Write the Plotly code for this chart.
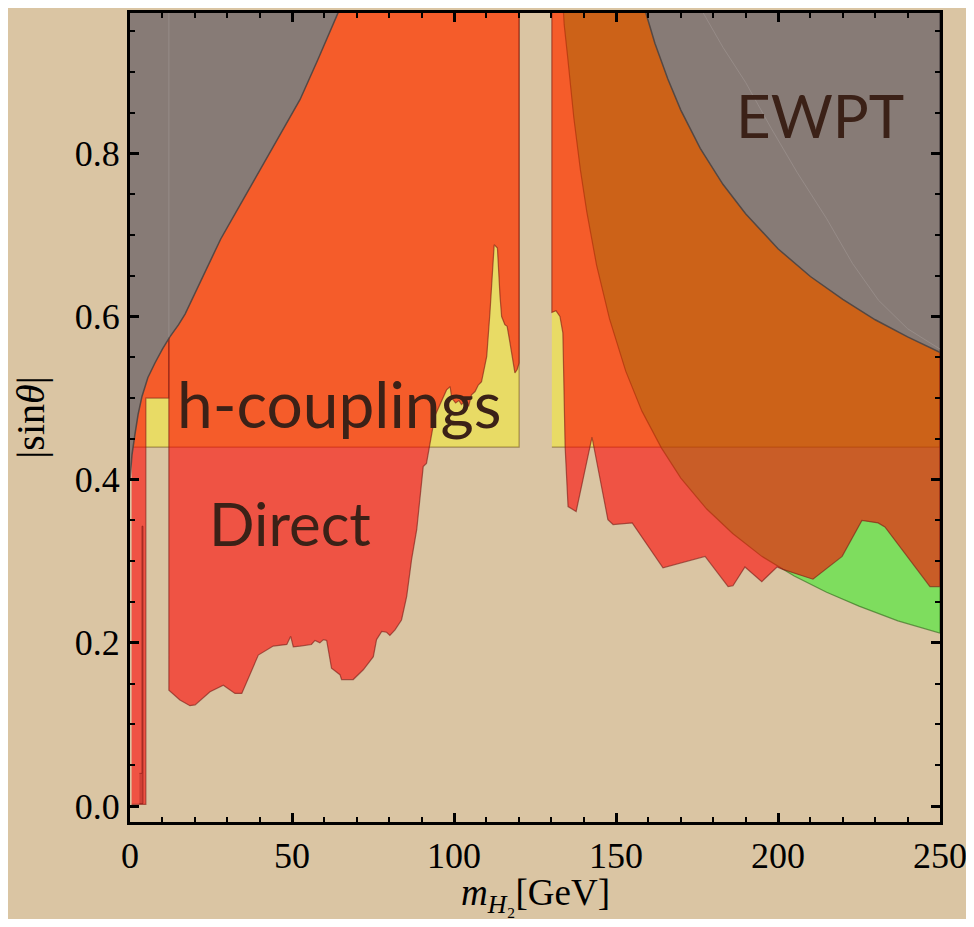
import plotly.graph_objects as go

# ---------------- data ----------------
# h-couplings exclusion band (|sin theta| > 0.44)
hcoup_left_x = [0.0, 120.1, 120.1, 0.0]
hcoup_left_y = [0.44, 0.44, 1.0, 1.0]
hcoup_right_x = [130.2, 250.0, 250.0, 130.2]
hcoup_right_y = [0.44, 0.44, 1.0, 1.0]

# W-mass (green) region: smooth lower boundary, open to the top
wmass_x = [133.4, 134.0, 135.0, 137.0, 139.0, 141.0, 144.0, 148.0, 153.0, 158.0,
           164.0, 170.0, 178.0, 186.0, 195.0, 205.0, 215.0, 225.0, 237.0, 250.0,
           250.0]
wmass_y = [1.0, 0.958, 0.921, 0.843, 0.780, 0.728, 0.663, 0.597, 0.533, 0.484,
           0.439, 0.402, 0.364, 0.334, 0.306, 0.282, 0.262, 0.245, 0.227, 0.212,
           1.0]

# Direct searches (red)
direct_left_x = [12.0, 12.0, 15.4, 18.5, 20.1, 24.7, 28.8, 32.4, 34.5, 39.6, 44.2,
                 48.4, 49.6, 50.4, 52.5, 56.0, 57.1, 58.6, 59.7, 60.7, 62.2, 64.8,
                 65.3, 68.9, 72.0, 75.1, 76.1, 77.7, 79.2, 80.2, 81.8, 83.8, 85.4,
                 86.9, 88.5, 90.5, 91.5, 92.6, 94.1, 97.7, 98.8, 99.3, 100.5, 101.5,
                 102.3, 103.5, 104.5, 105.4, 106.5, 107.5, 108.5, 110.1, 111.1, 112.4,
                 113.4, 114.2, 114.7, 115.7, 116.4, 117.1, 118.8, 119.5, 120.1, 120.1]
direct_left_y = [1.0, 0.142, 0.130, 0.123, 0.124, 0.140, 0.148, 0.138, 0.138, 0.185,
                 0.196, 0.198, 0.208, 0.195, 0.196, 0.198, 0.203, 0.200, 0.204, 0.203,
                 0.169, 0.161, 0.155, 0.155, 0.167, 0.183, 0.204, 0.214, 0.213, 0.209,
                 0.216, 0.228, 0.257, 0.302, 0.339, 0.416, 0.420, 0.445, 0.478, 0.510,
                 0.514, 0.500, 0.494, 0.497, 0.492, 0.497, 0.490, 0.504, 0.508, 0.516,
                 0.520, 0.551, 0.605, 0.688, 0.684, 0.625, 0.600, 0.590, 0.588, 0.572,
                 0.531, 0.535, 0.543, 1.0]
direct_strip_x = [0.5, 4.9, 4.9, 12.0, 12.0, 0.5]
direct_strip_y = [0.002, 0.002, 0.5, 0.5, 1.0, 1.0]
direct_thin_x = [2.9, 4.0, 4.0, 3.7, 3.7, 2.9]
direct_thin_y = [0.003, 0.003, 0.343, 0.343, 0.04, 0.04]
direct_right_x = [130.2, 130.2, 131.5, 132.7, 133.6, 134.3, 135.2, 137.7, 142.6, 147.5,
                  149.1, 155.0, 164.5, 169.8, 177.5, 184.6, 186.1, 189.8, 195.0, 199.7,
                  201.5, 210.8, 219.8, 225.9, 230.9, 233.0, 246.9, 250.0, 250.0]
direct_right_y = [1.0, 0.605, 0.607, 0.600, 0.580, 0.440, 0.367, 0.361, 0.452, 0.351,
                  0.345, 0.347, 0.292, 0.298, 0.306, 0.269, 0.270, 0.293, 0.275, 0.293,
                  0.290, 0.278, 0.306, 0.350, 0.347, 0.342, 0.269, 0.269, 1.0]

# EWPT (grey)
ewpt_left_x = [0.0, 0.6, 1.5, 2.5, 3.7, 5.5, 7.7, 10.0, 12.3, 15.0, 17.0, 19.0, 22.0,
               28.0, 35.0, 43.0, 52.5, 58.0, 64.3, 64.8, 0.0]
ewpt_left_y = [0.40, 0.43, 0.455, 0.48, 0.502, 0.525, 0.543, 0.560, 0.575, 0.590, 0.603,
               0.620, 0.645, 0.695, 0.744, 0.800, 0.866, 0.915, 0.973, 1.0, 1.0]
ewpt_right_x = [157.3, 159.0, 162.0, 166.0, 170.0, 176.0, 183.0, 190.0, 200.0, 210.0,
                220.0, 230.0, 240.0, 250.0, 250.0]
ewpt_right_y = [1.0, 0.975, 0.935, 0.891, 0.853, 0.806, 0.762, 0.726, 0.683, 0.649,
                0.621, 0.596, 0.575, 0.556, 1.0]
# faint seams visible inside the grey area
seam1_x = [12.0, 12.0]
seam1_y = [0.575, 1.0]
seam2_x = [176.5, 183.0, 190.0, 198.0, 206.0, 215.0, 223.0, 231.0, 240.0, 250.0]
seam2_y = [0.975, 0.930, 0.887, 0.830, 0.776, 0.720, 0.665, 0.620, 0.585, 0.560]

labels = ["EWPT", "h-couplings", "Direct"]
label_x = [213.0, 64.5, 49.5]
label_y = [0.847, 0.493, 0.347]
label_size = [60, 64, 60]

x_title = "<i>m</i><sub><i>H</i>₂</sub>[GeV]"
y_title = "|sin<i>θ</i>|"
x_ticks = [0, 50, 100, 150, 200, 250]
y_ticks = [0.0, 0.2, 0.4, 0.6, 0.8]

# ---------------- figure ----------------
BG = "#dac5a3"
fig = go.Figure()


def poly(xs, ys, fill, line, width=1.2):
    fig.add_trace(go.Scatter(x=xs, y=ys, mode="lines", fill="toself",
                             fillcolor=fill, line=dict(color=line, width=width),
                             hoverinfo="skip", showlegend=False))


YEL = "rgba(255,255,0,0.38)"
GRN = "rgba(0,255,0,0.42)"
RED = "rgba(255,0,0,0.58)"
GRAY = "#877b76"

poly(hcoup_left_x, hcoup_left_y, YEL, "rgba(110,80,20,0.55)")
poly(hcoup_right_x, hcoup_right_y, YEL, "rgba(110,80,20,0.55)")
poly(wmass_x, wmass_y, GRN, "rgba(40,100,20,0.6)")
poly(direct_strip_x, direct_strip_y, RED, "rgba(120,25,20,0.55)")
poly(direct_left_x, direct_left_y, RED, "rgba(120,25,20,0.6)")
poly(direct_right_x, direct_right_y, RED, "rgba(120,25,20,0.6)")
poly(direct_thin_x, direct_thin_y, "rgba(150,30,30,0.35)", "rgba(130,25,20,0.6)", 1.0)
poly(ewpt_left_x, ewpt_left_y, GRAY, "rgba(75,68,66,0.9)", 1.5)
poly(ewpt_right_x, ewpt_right_y, GRAY, "rgba(75,68,66,0.9)", 1.5)

for sx, sy in [(seam1_x, seam1_y), (seam2_x, seam2_y)]:
    fig.add_trace(go.Scatter(x=sx, y=sy, mode="lines",
                             line=dict(color="rgba(160,150,146,0.6)", width=1.0),
                             hoverinfo="skip", showlegend=False))

for t, lx, ly, s in zip(labels, label_x, label_y, label_size):
    fig.add_annotation(x=lx, y=ly, text=t, showarrow=False, xanchor="center",
                       yanchor="middle",
                       font=dict(family="Lato", size=s, color="#3b2117"))

# x-axis title placed as a paper annotation so it can sit low like the reference
fig.add_annotation(x=0.5, y=-0.091, xref="paper", yref="paper", text=x_title,
                   showarrow=False, xanchor="center", yanchor="middle",
                   font=dict(family="Liberation Serif", size=37, color="black"))

axis_common = dict(showgrid=False, zeroline=False, showline=True, linecolor="black",
                   linewidth=3, mirror="allticks", ticks="inside", ticklen=9,
                   tickwidth=2.5, tickcolor="black", ticklabeloverflow="allow",
                   automargin=False,
                   tickfont=dict(family="Liberation Serif", size=36, color="black"))

fig.update_xaxes(range=[0, 250], tickvals=x_ticks,
                 minor=dict(dtick=10, ticks="inside", ticklen=5, tickwidth=2,
                            tickcolor="black", showgrid=False),
                 **axis_common)
fig.update_yaxes(range=[-0.0196, 0.972], tickvals=y_ticks, tickformat=".1f",
                 minor=dict(dtick=0.05, tick0=0, ticks="inside", ticklen=5, tickwidth=2,
                            tickcolor="black", showgrid=False),
                 title=dict(text=y_title,
                            font=dict(family="Liberation Serif", size=40, color="black"),
                            standoff=22),
                 **axis_common)

# page body has an 8px margin, so the figure is made 16px smaller and shifted
fig.update_layout(width=958, height=911, margin=dict(l=122, r=26, t=5, b=97),
                  paper_bgcolor=BG, plot_bgcolor=BG, showlegend=False)

fig.write_html("out.html")
